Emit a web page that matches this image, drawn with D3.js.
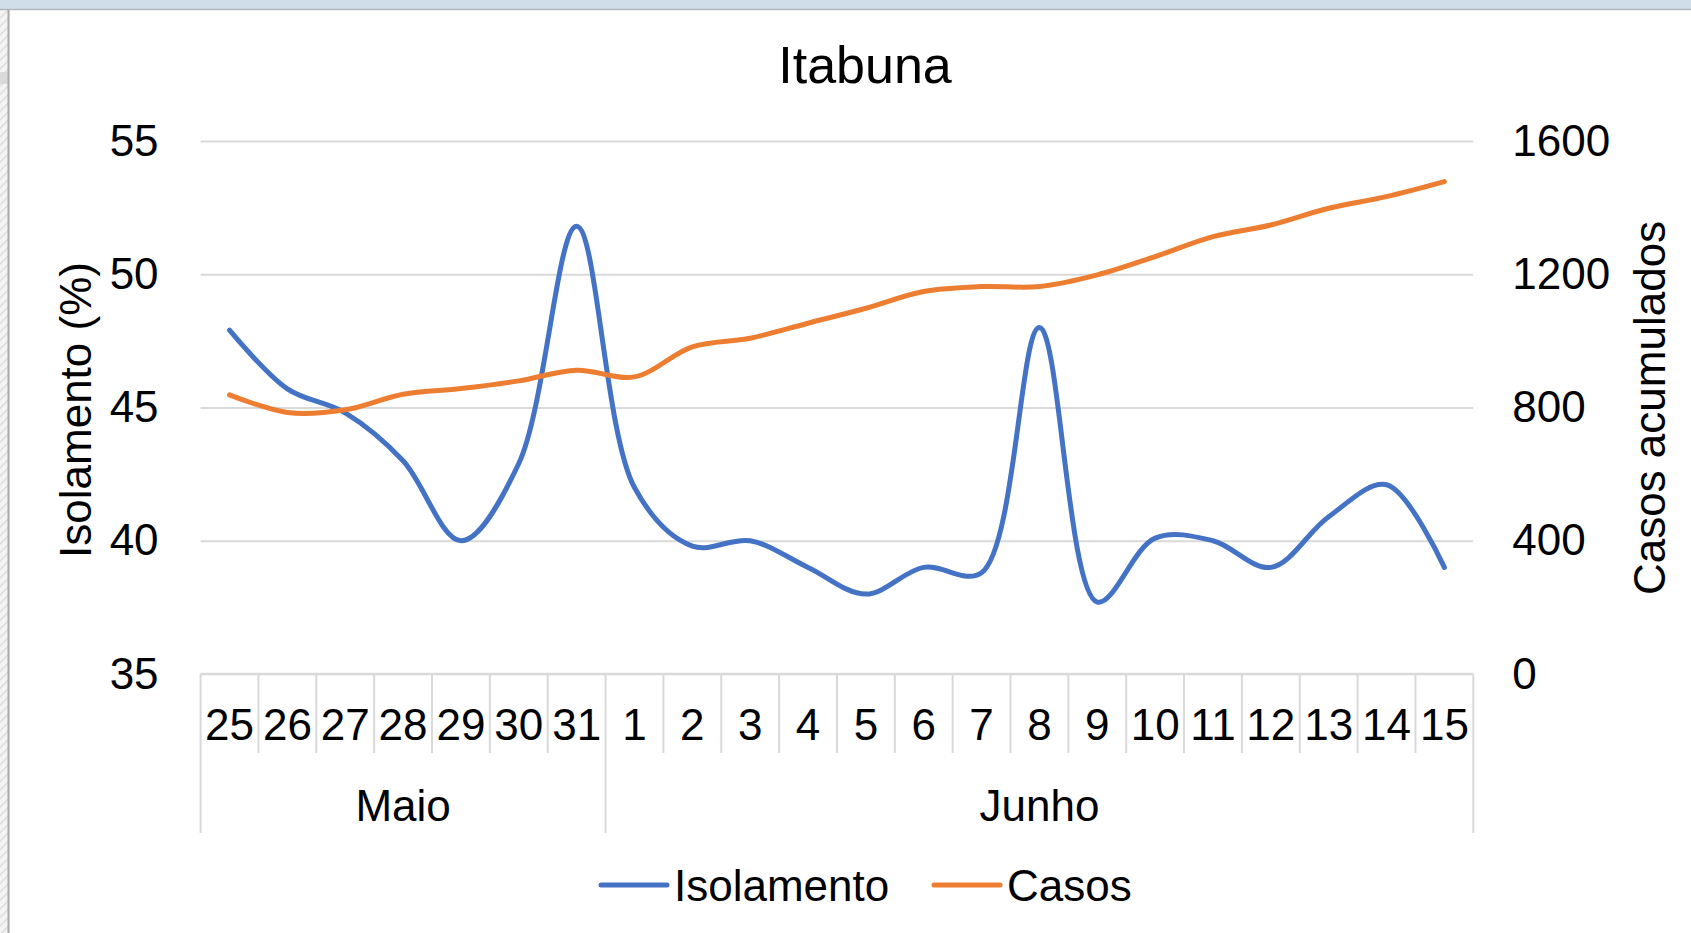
<!DOCTYPE html>
<html>
<head>
<meta charset="utf-8">
<script src="https://cdn.jsdelivr.net/npm/d3@7"></script>
<style>
  html, body { margin: 0; padding: 0; background: #ffffff; }
  svg { display: block; }
  text { font-family: "Liberation Sans", Arial, Helvetica, sans-serif; fill: #000; }
</style>
</head>
<body>
<svg id="chart" width="1691" height="933"></svg>
<script>
// ---------- data ----------
const days = ["25","26","27","28","29","30","31","1","2","3","4","5","6","7","8","9","10","11","12","13","14","15"];
const monthLabels = ["Maio", "Junho"];
const monthSpans = [7, 15];
const isolamento = [47.9, 45.7, 44.8, 43.0, 40.0, 42.9, 51.8, 42.0, 39.8, 40.0, 39.0, 38.0, 39.0, 38.8, 48.0, 37.7, 40.1, 40.0, 39.0, 40.9, 42.1, 39.0];
const casos = [838, 785, 793, 840, 857, 880, 912, 892, 982, 1008, 1053, 1098, 1148, 1163, 1163, 1198, 1253, 1313, 1348, 1398, 1433, 1478];
const leftTicks = [35, 40, 45, 50, 55];
const rightTicks = [0, 400, 800, 1200, 1600];
const title = "Itabuna";
const leftTitle = "Isolamento (%)";
const rightTitle = "Casos acumulados";
const seriesNames = ["Isolamento", "Casos"];
const colors = ["#4472C4", "#ED7D31"];

// ---------- layout ----------
const W = 1691, H = 933;
const plot = { left: 200.6, right: 1473.3, top: 141, bottom: 674 };
const svg = d3.select("#chart");
const gridColor = "#d9d9d9";
const fs = 44;

// window frame
const defs = svg.append("defs");
const pat = defs.append("pattern").attr("id", "hatch").attr("patternUnits", "userSpaceOnUse")
  .attr("width", 6).attr("height", 6).attr("patternTransform", "rotate(45)");
pat.append("rect").attr("width", 6).attr("height", 6).attr("fill", "#f4f4f4");
pat.append("line").attr("x1", 0).attr("y1", 0).attr("x2", 0).attr("y2", 6).attr("stroke", "#dcdcdc").attr("stroke-width", 3);
svg.append("rect").attr("x", 0).attr("y", 0).attr("width", W).attr("height", H).attr("fill", "#fff");
svg.append("rect").attr("x", 0).attr("y", 0).attr("width", 8).attr("height", H).attr("fill", "url(#hatch)");
svg.append("rect").attr("x", 0).attr("y", 72).attr("width", 8).attr("height", 12).attr("fill", "#d4d4d4").attr("opacity", 0.8);
svg.append("line").attr("x1", 8.5).attr("x2", 8.5).attr("y1", 0).attr("y2", H).attr("stroke", "#a8a8a8").attr("stroke-width", 2);
svg.append("rect").attr("x", 0).attr("y", 0).attr("width", W).attr("height", 9).attr("fill", "#cfdee8");
svg.append("line").attr("x1", 0).attr("x2", W).attr("y1", 9.5).attr("y2", 9.5).attr("stroke", "#b5b8ba").attr("stroke-width", 1.5);

// ---------- scales ----------
const idx = d3.range(days.length);
const x = d3.scaleBand().domain(idx).range([plot.left, plot.right]).paddingInner(0).paddingOuter(0);
const yL = d3.scaleLinear().domain([35, 55]).range([plot.bottom, plot.top]);
const yR = d3.scaleLinear().domain([0, 1600]).range([plot.bottom, plot.top]);

// gridlines
const grid = svg.append("g").attr("transform", `translate(${plot.left},0)`)
  .call(d3.axisLeft(yL).tickValues(leftTicks.slice(1)).tickSize(-(plot.right - plot.left)).tickFormat(""));
grid.select(".domain").remove();
grid.selectAll(".tick line").attr("stroke", gridColor).attr("stroke-width", 2.2);

// category axis line + separators
svg.append("line").attr("x1", plot.left).attr("x2", plot.right).attr("y1", plot.bottom).attr("y2", plot.bottom)
  .attr("stroke", gridColor).attr("stroke-width", 2.4);
const monthBounds = [0];
monthSpans.forEach((s, i) => monthBounds.push(monthBounds[i] + s));
const bounds = d3.range(days.length + 1);
svg.append("g").selectAll("line").data(bounds).join("line")
  .attr("x1", d => d === days.length ? plot.right : x(d))
  .attr("x2", d => d === days.length ? plot.right : x(d))
  .attr("y1", plot.bottom)
  .attr("y2", d => monthBounds.includes(d) ? 833 : 753)
  .attr("stroke", gridColor).attr("stroke-width", 2);

// day labels
const xAx = svg.append("g").attr("transform", `translate(0,${plot.bottom})`)
  .call(d3.axisBottom(x).tickSize(0).tickPadding(35).tickFormat(i => days[i]));
xAx.select(".domain").remove();
xAx.selectAll("text").attr("font-size", fs).attr("font-family", null).attr("fill", "#000");

// month labels
svg.append("g").selectAll("text").data(monthLabels).join("text")
  .attr("x", (d, i) => (x(monthBounds[i]) + (monthBounds[i + 1] === days.length ? plot.right : x(monthBounds[i + 1]))) / 2)
  .attr("y", 821)
  .attr("text-anchor", "middle").attr("font-size", fs).text(d => d);

// left axis labels
const lAx = svg.append("g").attr("transform", `translate(${plot.left},0)`)
  .call(d3.axisLeft(yL).tickValues(leftTicks).tickSize(0).tickPadding(42).tickFormat(d3.format("d")));
lAx.select(".domain").remove();
lAx.selectAll("text").attr("font-size", fs).attr("font-family", null).attr("fill", "#000");

// right axis labels
const rAx = svg.append("g").attr("transform", `translate(${plot.right},0)`)
  .call(d3.axisRight(yR).tickValues(rightTicks).tickSize(0).tickPadding(39).tickFormat(d3.format("d")));
rAx.select(".domain").remove();
rAx.selectAll("text").attr("font-size", fs).attr("font-family", null).attr("fill", "#000");

// lines
const cx = i => x(i) + x.bandwidth() / 2;
const lineL = d3.line().x((d, i) => cx(i)).y(d => yL(d)).curve(d3.curveCatmullRom.alpha(0.5));
const lineR = d3.line().x((d, i) => cx(i)).y(d => yR(d)).curve(d3.curveCatmullRom.alpha(0.5));
svg.append("path").datum(isolamento).attr("d", lineL).attr("fill", "none")
  .attr("stroke", colors[0]).attr("stroke-width", 5).attr("stroke-linecap", "round").attr("stroke-linejoin", "round");
svg.append("path").datum(casos).attr("d", lineR).attr("fill", "none")
  .attr("stroke", colors[1]).attr("stroke-width", 5).attr("stroke-linecap", "round").attr("stroke-linejoin", "round");

// title
svg.append("text").attr("x", 865).attr("y", 83).attr("text-anchor", "middle").attr("font-size", 52).text(title);

// axis titles
svg.append("text").attr("transform", "translate(75,410) rotate(-90)")
  .attr("text-anchor", "middle").attr("dominant-baseline", "central").attr("font-size", fs).text(leftTitle);
svg.append("text").attr("transform", "translate(1649,408) rotate(-90)")
  .attr("text-anchor", "middle").attr("dominant-baseline", "central").attr("font-size", fs).text(rightTitle);

// legend
const legX = [601, 934];
const leg = svg.append("g").selectAll("g").data(seriesNames).join("g")
  .attr("transform", (d, i) => `translate(${legX[i]},885)`);
leg.append("line").attr("x1", 0).attr("x2", 66).attr("y1", 0).attr("y2", 0)
  .attr("stroke", (d, i) => colors[i]).attr("stroke-width", 5).attr("stroke-linecap", "round");
leg.append("text").attr("x", 73).attr("y", 16).attr("font-size", fs).text(d => d);
</script>
</body>
</html>
